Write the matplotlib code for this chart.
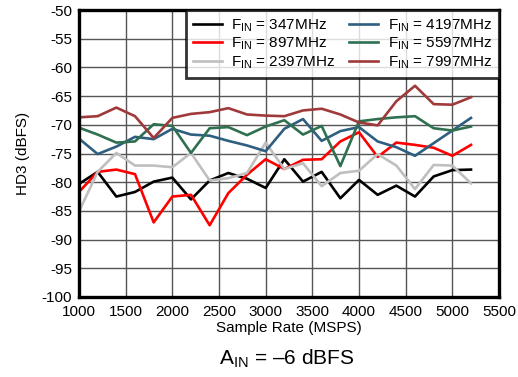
import numpy as np
import matplotlib
matplotlib.use("Agg")
import matplotlib.pyplot as plt

plt.rcParams["font.family"] = ["Liberation Sans", "DejaVu Sans"]
plt.rcParams["mathtext.fontset"] = "custom"
plt.rcParams["mathtext.rm"] = "Liberation Sans"

rate = [1000, 1200, 1400, 1600, 1800, 2000, 2200, 2400, 2600, 2800, 3000,
        3200, 3400, 3600, 3800, 4000, 4200, 4400, 4600, 4800, 5000, 5200]

hd3_347  = [-80.3, -78.2, -82.5, -81.7, -79.9, -79.2, -83.0, -79.7, -78.4, -79.4, -81.0,
            -76.0, -79.9, -78.2, -82.8, -79.6, -82.2, -80.6, -82.5, -79.0, -77.9, -77.8]
hd3_897  = [-81.7, -78.2, -77.8, -78.6, -87.0, -82.5, -82.2, -87.5, -81.9, -78.7, -76.0,
            -77.7, -76.1, -76.0, -72.9, -71.3, -75.6, -73.1, -73.5, -74.0, -75.4, -73.5]
hd3_2397 = [-85.1, -78.2, -74.9, -77.1, -77.1, -77.4, -74.9, -79.7, -79.3, -78.4, -73.1,
            -77.7, -76.7, -80.7, -78.4, -78.0, -75.1, -77.1, -81.2, -77.0, -77.1, -80.2]
hd3_4197 = [-72.4, -75.1, -73.8, -72.1, -72.5, -70.7, -71.7, -71.9, -72.8, -73.6, -74.6,
            -70.7, -69.0, -72.8, -71.1, -70.4, -72.9, -73.9, -75.4, -73.2, -71.0, -68.8]
hd3_5597 = [-70.5, -71.7, -73.1, -72.9, -69.9, -70.2, -74.9, -70.6, -70.4, -71.8, -70.3,
            -69.2, -71.7, -70.2, -77.2, -69.4, -69.0, -68.7, -68.5, -70.6, -71.0, -70.3]
hd3_7997 = [-68.7, -68.5, -67.0, -68.5, -72.3, -68.8, -68.1, -67.8, -67.1, -68.2, -68.4,
            -68.5, -67.5, -67.2, -68.2, -69.6, -70.1, -65.9, -63.2, -66.4, -66.5, -65.2]

labels = [r"F$_{\rm IN}$ = 347MHz", r"F$_{\rm IN}$ = 897MHz", r"F$_{\rm IN}$ = 2397MHz",
          r"F$_{\rm IN}$ = 4197MHz", r"F$_{\rm IN}$ = 5597MHz", r"F$_{\rm IN}$ = 7997MHz"]
series = [hd3_347, hd3_897, hd3_2397, hd3_4197, hd3_5597, hd3_7997]
colors = ["#000000", "#ff0000", "#bfbfbf", "#2e5f80", "#2e7050", "#a03a3a"]

xticks = np.arange(1000, 5501, 500)
yticks = np.arange(-100, -49, 5)

fig = plt.figure(figsize=(5.18, 3.77), dpi=100)
ax = fig.add_axes([79 / 518, 1 - 297 / 377, 420 / 518, 287 / 377])

for y, c, lab in zip(series, colors, labels):
    ax.plot(rate, y, color=c, lw=1.9, label=lab, zorder=3)

ax.set_xlim(1000, 5500)
ax.set_ylim(-100, -50)
ax.set_xticks(xticks)
ax.set_yticks(yticks)
ax.set_xticklabels([str(v) for v in xticks], fontsize=11)
ax.set_yticklabels([str(v) for v in yticks], fontsize=11)
ax.tick_params(axis="x", length=0, pad=6)
ax.tick_params(axis="y", length=0, pad=5)
ax.grid(True, color="#555555", lw=1.0, zorder=1)
for s in ax.spines.values():
    s.set_linewidth(2.4)
    s.set_zorder(4)

ax.set_xlabel("Sample Rate (MSPS)", fontsize=11, labelpad=1)
ax.set_ylabel("HD3 (dBFS)", fontsize=11, labelpad=8)

leg = ax.legend(ncol=2, loc="upper right", fontsize=11, frameon=True, fancybox=False,
                borderpad=0.45, labelspacing=0.12, handlelength=1.9, columnspacing=0.9,
                handletextpad=0.6, borderaxespad=0)
leg.get_frame().set_edgecolor("black")
leg.get_frame().set_linewidth(2.0)
leg.set_zorder(5)

fig.text(287 / 518, 1 - 359 / 377, r"A$_{\rm IN}$ = –6 dBFS", fontsize=15,
         ha="center", va="center")

fig.savefig("out.png", dpi=100)
